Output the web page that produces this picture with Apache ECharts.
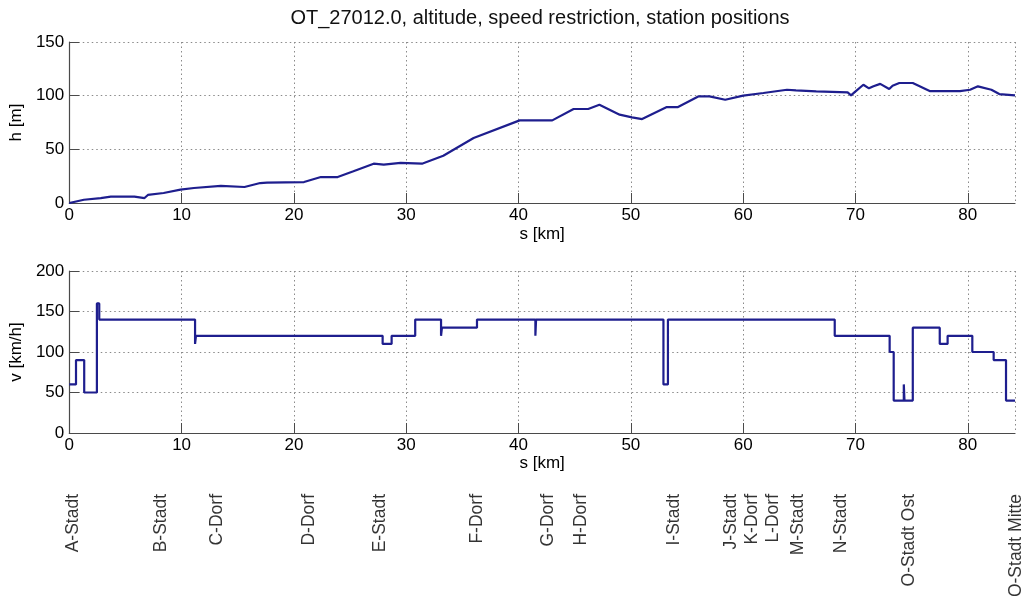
<!DOCTYPE html>
<html>
<head>
<meta charset="utf-8">
<script src="https://cdn.jsdelivr.net/npm/echarts@6/dist/echarts.min.js"></script>
<style>html,body{margin:0;padding:0;background:#fff;}#c{width:1024px;height:596px;}</style>
</head>
<body>
<div id="c"></div>
<script>
// altitude profile
const altKm = [0,1.3,2.8,3.7,5.8,6.7,7.0,8.4,9.9,11.1,13.5,15.6,17.0,17.6,20.9,22.4,23.9,25.3,27.1,28.0,29.5,31.4,33.3,36.0,40.1,43.0,44.9,46.2,47.2,49.0,50.1,51.0,53.2,54.2,56.0,57.0,58.4,60.0,61.8,63.9,64.7,66.5,69.3,69.6,69.9,70.7,71.2,71.6,72.2,73.0,73.3,73.9,75.1,76.6,79.3,80.2,80.9,82.1,82.8,84.2];
const altM  = [0,3,4.6,6,6,4.6,7.5,9.3,12.4,14,16,14.9,18.6,19,19.5,24.2,24.2,29.5,36.6,35.7,37.3,36.6,44,60.5,77,77,87.6,87.6,91.6,82.3,79.8,78.2,89.4,89.4,99.3,99.3,96.2,100,102.5,105.5,104.9,104,103,100.3,103,110.2,106.8,108.7,111,106.2,109.3,111.8,111.8,104.3,104.3,105.5,108.7,105.5,101.5,100.3];
// speed restriction (value holds from km until next km)
const spdKm = [0,0.6,1.33,2.46,2.67,11.2,11.28,27.9,28.7,30.8,33.1,33.18,36.3,41.5,41.56,52.9,53.3,68.15,73.04,73.4,74.3,74.36,75.1,77.5,78.2,80.4,82.3,83.4,84.2];
const spdV  = [60,90,50,160,140,110,120,110,120,140,120,130,140,120,140,60,140,120,100,40,60,40,130,110,120,100,90,40,40];
// stations
const stationNames = ['A-Stadt','B-Stadt','C-Dorf','D-Dorf','E-Stadt','F-Dorf','G-Dorf','H-Dorf','I-Stadt','J-Stadt','K-Dorf','L-Dorf','M-Stadt','N-Stadt','O-Stadt Ost','O-Stadt Mitte'];
const stationKm = [0.5,8.3,13.3,21.4,27.8,36.4,42.7,45.6,53.9,59.0,60.8,62.7,64.9,68.75,74.8,84.3];
// axes
const xTicks = [0,10,20,30,40,50,60,70,80];
const xMax = 84.2;
const hTicks = [0,50,100,150];
const vTicks = [0,50,100,150,200];

const FONT = '"Liberation Sans", Arial, sans-serif';
const lineColor = '#1e1e8e';
const axisColor = '#4a4a4a';
const gridLine = {show:true, lineStyle:{color:'#8a8a8a', type:[1.5,3], width:1}};

function xAx(gi, nameGap){
  return {
    gridIndex: gi, type:'value', min:0, max:xMax, interval:10,
    name:'s [km]', nameLocation:'middle', nameGap: nameGap,
    nameTextStyle:{fontFamily:FONT, fontSize:17, color:'#000'},
    axisLine:{show:true, onZero:false, lineStyle:{color:axisColor, width:1.2}},
    axisTick:{show:true, inside:true, length:10, lineStyle:{color:axisColor}},
    axisLabel:{fontFamily:FONT, fontSize:17, color:'#000', margin:4,
      showMaxLabel:false,
      formatter: v => xTicks.indexOf(v) >= 0 ? String(v) : ''},
    splitLine: gridLine
  };
}
function yAx(gi, ticks, name, nameGap){
  return {
    gridIndex: gi, type:'value', min:ticks[0], max:ticks[ticks.length-1], interval:50,
    name:name, nameLocation:'middle', nameGap:nameGap, nameRotate:90,
    nameTextStyle:{fontFamily:FONT, fontSize:17, color:'#000'},
    axisLine:{show:true, lineStyle:{color:axisColor, width:1.2}},
    axisTick:{show:true, inside:true, length:10, lineStyle:{color:axisColor}},
    axisLabel:{fontFamily:FONT, fontSize:17, color:'#000', margin:5},
    splitLine: gridLine
  };
}

const chart = echarts.init(document.getElementById('c'), null, {renderer:'canvas'});
chart.setOption({
  backgroundColor:'#fff',
  animation:false,
  graphic:[{
    type:'text', x:540, y:18,
    style:{text:'OT_27012.0, altitude, speed restriction, station positions',
      font:'20px ' + FONT, fill:'#111', align:'center', verticalAlign:'middle',
      textAlign:'center', textVerticalAlign:'middle'}
  }],
  grid:[
    {left:68, right:9, top:42, height:161},
    {left:68, right:9, top:271, height:162},
    {left:68, right:9, top:494, height:60}
  ],
  xAxis:[
    xAx(0, 23),
    xAx(1, 21),
    {gridIndex:2, type:'value', min:0, max:xMax, show:false}
  ],
  yAxis:[
    yAx(0, hTicks, 'h [m]', 37),
    yAx(1, vTicks, 'v [km/h]', 35),
    {gridIndex:2, type:'value', min:0, max:1, show:false}
  ],
  series:[
    {type:'line', xAxisIndex:0, yAxisIndex:0, showSymbol:false, symbol:'none',
      lineStyle:{color:lineColor, width:2.2}, data: altKm.map((k,i)=>[k, altM[i]])},
    {type:'line', xAxisIndex:1, yAxisIndex:1, showSymbol:false, symbol:'none', step:'end',
      lineStyle:{color:lineColor, width:2.2}, data: spdKm.map((k,i)=>[k, spdV[i]])},
    {type:'scatter', xAxisIndex:2, yAxisIndex:2, symbolSize:0, clip:false, silent:true,
      itemStyle:{color:'transparent'},
      label:{show:true, position:'inside', rotate:90, align:'right', verticalAlign:'middle',
        fontFamily:FONT, fontSize:17.5, color:'#000', formatter: p => p.name},
      data: stationNames.map((n,i)=>({name:n, value:[stationKm[i], 1]}))}
  ]
});
</script>
</body>
</html>
